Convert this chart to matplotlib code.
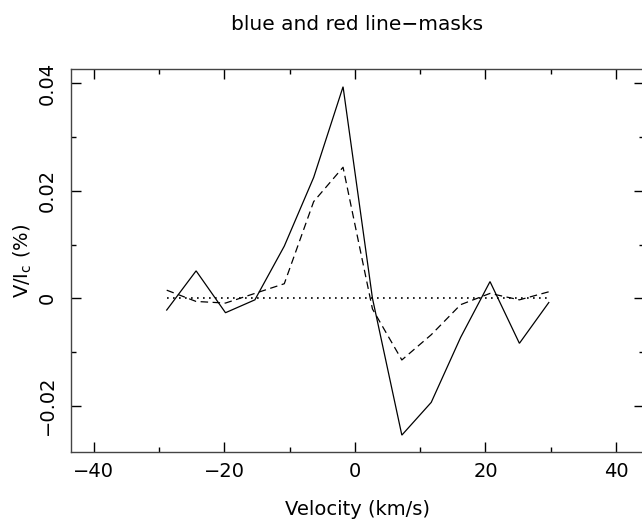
import matplotlib
matplotlib.use("Agg")
import matplotlib.pyplot as plt
from matplotlib.ticker import MultipleLocator

# Stokes V profiles from the two line masks
velocity = [-28.8, -24.3, -19.8, -15.3, -10.8, -6.3, -1.8, 2.7, 7.2, 11.7, 16.2, 20.7, 25.2, 29.7]
v_blue = [-0.0022, 0.0051, -0.0027, -0.0003, 0.0097, 0.0225, 0.0394, 0.0000,
          -0.0255, -0.0194, -0.0073, 0.0031, -0.0084, -0.0008]
v_red = [0.0015, -0.0006, -0.0009, 0.0009, 0.0027, 0.0180, 0.0244, -0.0020,
         -0.0115, -0.0068, -0.0012, 0.0009, -0.0003, 0.0012]
zero_span = [-28.8, 29.7]
zero_level = [0.0, 0.0]

title = "blue and red line\u2212masks"
xlabel = "Velocity (km/s)"
ylabel = r"V/I$_\mathrm{c}$ (%)"

plt.rcParams["font.family"] = ["DejaVu Sans"]
plt.rcParams["mathtext.fontset"] = "dejavusans"

W, H = 642, 523
fig = plt.figure(figsize=(W / 100, H / 100), dpi=100)
left, right, top, bottom = 70.7, 643.5, 69.0, 452.3
ax = fig.add_axes([left / W, 1 - bottom / H, (right - left) / W, (bottom - top) / H])

ax.plot(velocity, v_blue, color="black", lw=0.9, solid_joinstyle="miter")
ax.plot(velocity, v_red, color="black", lw=0.9, dashes=(6, 3.6))
ax.plot(zero_span, zero_level, color="black", lw=1.2, dashes=(1, 2.6))

ax.set_xlim(-43.5, 44.2)
ax.set_ylim(-0.0287, 0.0427)

ax.xaxis.set_major_locator(MultipleLocator(20))
ax.xaxis.set_minor_locator(MultipleLocator(10))
ax.yaxis.set_major_locator(MultipleLocator(0.02))
ax.yaxis.set_minor_locator(MultipleLocator(0.01))
ax.yaxis.set_major_formatter(matplotlib.ticker.FuncFormatter(
    lambda v, p: "0" if abs(v) < 1e-9 else ("%.2f" % v).replace("-", "\u2212")))

ax.tick_params(which="both", direction="in", top=True, right=True, width=1.0, color="black")
ax.tick_params(which="major", length=7.2, labelsize=14)
ax.tick_params(which="minor", length=3.6)
ax.tick_params(axis="x", pad=7)
ax.tick_params(axis="y", pad=10)
for lab in ax.get_yticklabels():
    lab.set_rotation(90)
    lab.set_va("center")

for s in ax.spines.values():
    s.set_linewidth(1.0)
    s.set_color("#444444")

ax.set_xlabel(xlabel, fontsize=14, labelpad=14)
ax.set_ylabel(ylabel, fontsize=14, labelpad=3)
ax.set_title(title, fontsize=14.5, pad=28)

fig.savefig("out.png", dpi=100)
